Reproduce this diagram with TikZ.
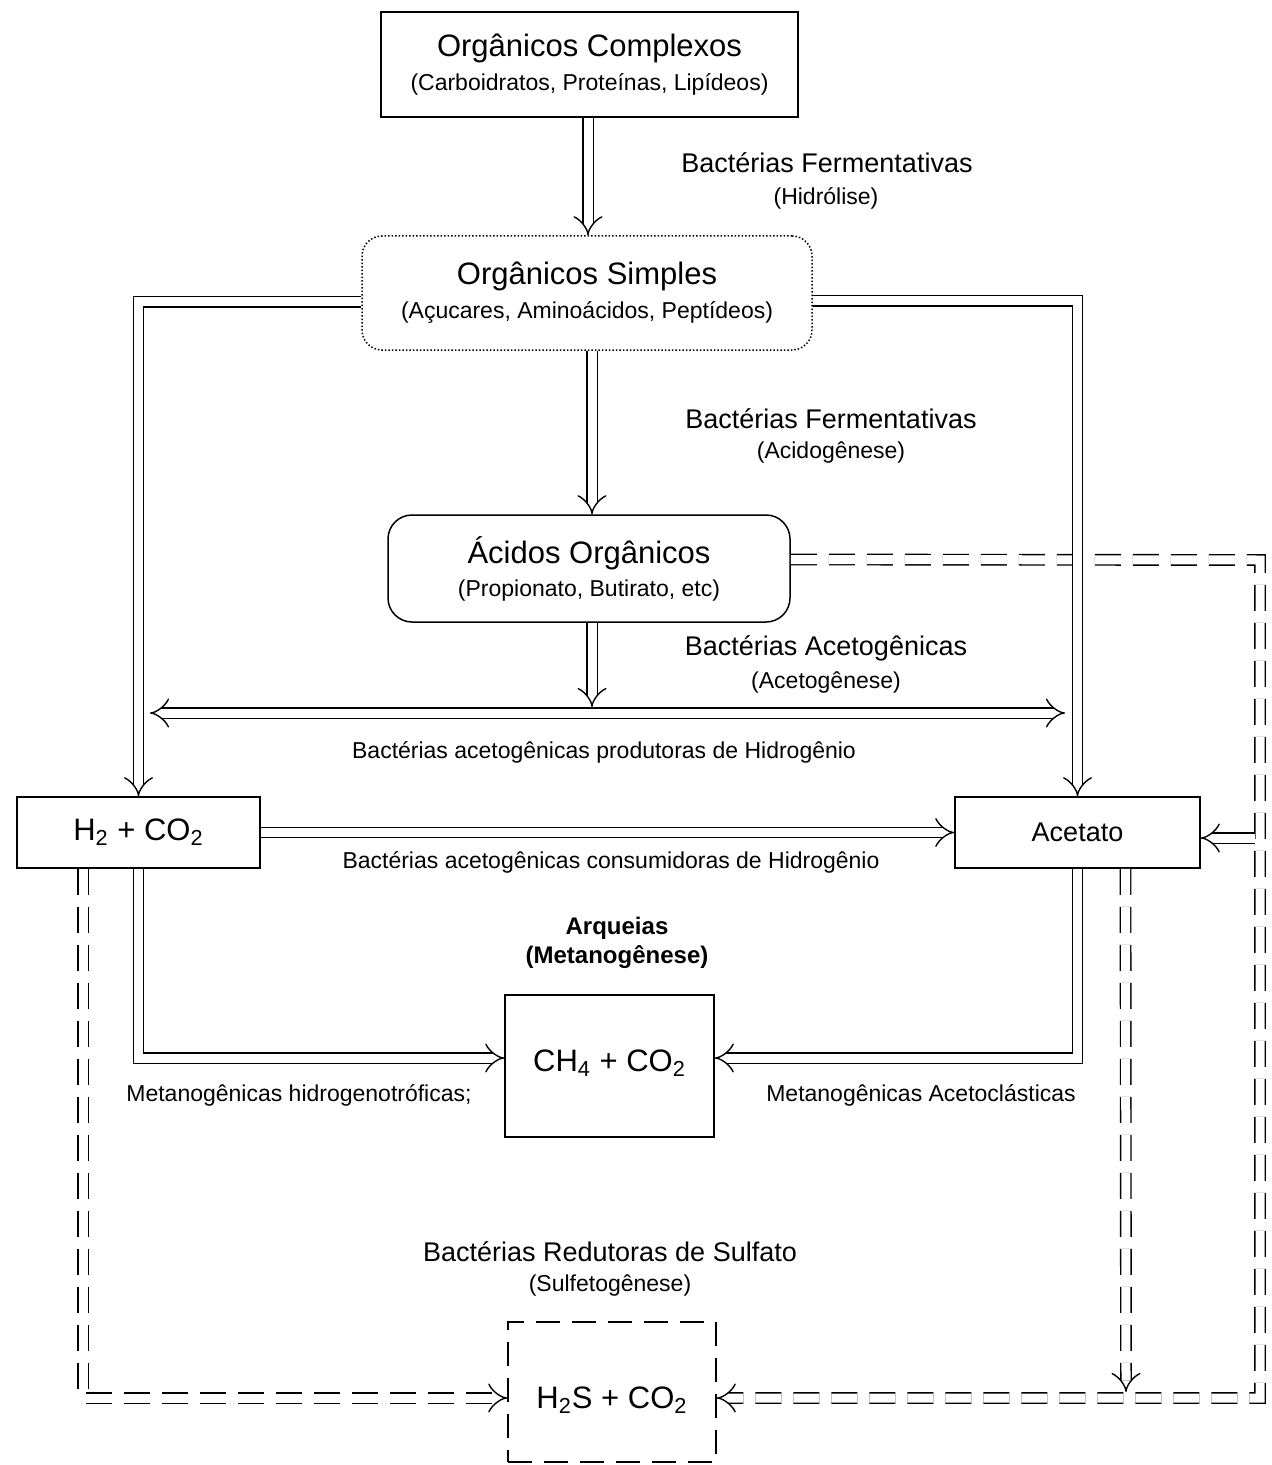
\documentclass[tikz,border=0pt]{standalone}
\usepackage{fontspec}
\setmainfont{Liberation Sans}
\usetikzlibrary{arrows.meta,calc}
\newcommand*\FTitle{\fontsize{15.5}{19}\selectfont}
\newcommand*\FSub{\fontsize{11.5}{14}\selectfont}
\newcommand*\FLab{\fontsize{13.5}{16}\selectfont}
\newcommand*\FSmall{\fontsize{11.5}{14}\selectfont}
\begin{document}
\begin{tikzpicture}[x=0.5pt,y=-0.5pt,
  box/.style={draw, line width=0.75pt, align=center, inner sep=0pt},
  dbl/.style={draw, line width=0.7pt, double, double distance=4.5pt, -{Implies}},
  dbldash/.style={dbl, dash pattern=on 13pt off 6pt},
  lab/.style={font=\FLab, inner sep=0pt},
  sub/.style={font=\FSub, inner sep=0pt},
  small/.style={font=\FSmall, inner sep=0pt},
  bold/.style={font=\fontsize{12}{14.5}\selectfont\bfseries, inner sep=0pt, align=center}
]
\useasboundingbox (0,0) rectangle (1271,1465);

% boxes
\node[box, minimum width=208.5pt, minimum height=52.5pt] (oc) at (589.5,64.5)
  {\FTitle Orgânicos Complexos\\[5pt]\FSub (Carboidratos, Proteínas, Lipídeos)};
\node[box, densely dotted, rounded corners=10pt, minimum width=225pt, minimum height=57pt] (os) at (587,293)
  {\FTitle Orgânicos Simples\\[5pt]\FSub (Açucares, Aminoácidos, Peptídeos)};
\node[box, rounded corners=12pt, minimum width=201pt, minimum height=53.5pt] (ao) at (589,568.5)
  {\FTitle Ácidos Orgânicos\\[4.5pt]\FSub (Propionato, Butirato, etc)};
\node[box, minimum width=121.5pt, minimum height=35.5pt] (h2) at (138.5,832.5)
  {\FTitle H\textsubscript{2} + CO\textsubscript{2}};
\node[box, minimum width=122.5pt, minimum height=35.5pt] (ac) at (1077.5,832.5)
  {\FLab Acetato};
\node[box, minimum width=104.5pt, minimum height=71pt, text height=11pt, text depth=6pt] (ch4) at (609.5,1066)
  {\FTitle CH\textsubscript{4} + CO\textsubscript{2}};
\node[box, dash pattern=on 12pt off 6pt, minimum width=104pt, minimum height=70pt, text height=16pt, text depth=0pt] (h2s) at (612,1392)
  {\FTitle H\textsubscript{2}S + CO\textsubscript{2}};

% free coordinates
\coordinate (hl) at (150,713);
\coordinate (hr) at (1065,713);
\coordinate (aoend) at (592,707);
\coordinate (rc1) at (1260,560);
\coordinate (rc2) at (1260,1398);
\coordinate (rc3) at (1255,838);
\coordinate (acd) at (1126,1392);

% labels
\node[lab] (l1) at (827,163) {Bactérias Fermentativas};
\node[small] (l1s) at (826,198) {(Hidrólise)};
\node[lab] (l2) at (831,419) {Bactérias Fermentativas};
\node[small] (l2s) at (831,453) {(Acidogênese)};
\node[lab] (l3) at (826,648) {Bactérias Acetogênicas};
\node[small] (l3s) at (826,683) {(Acetogênese)};
\node[small] (l4) at (604,752) {Bactérias acetogênicas produtoras de Hidrogênio};
\node[small] (l5) at (611,862) {Bactérias acetogênicas consumidoras de Hidrogênio};
\node[bold] (l6) at (617,943) {Arqueias\\(Metanogênese)};
\node[small] (l7) at (299,1095) {Metanogênicas hidrogenotróficas;};
\node[small] (l8) at (921,1095) {Metanogênicas Acetoclásticas};
\node[lab] (l9) at (610,1252) {Bactérias Redutoras de Sulfato};
\node[small] (l9s) at (610,1285) {(Sulfetogênese)};

% dashed connectors (drawn first so solid ones lie on top)
\draw[dbldash] ([yshift=4.5pt]ao.east) -- (rc1) -- (rc2) -- ([yshift=-3pt]h2s.east);
\draw[dbldash] ([xshift=-27.75pt]h2.south) |- ([yshift=-3pt]h2s.west);
\draw[dbldash] ([xshift=24pt]ac.south) -- (acd);

% solid connectors
\draw[dbl] (oc.south -| 588,0) -- (os.north -| 588,0);
\draw[dbl] (os.south -| 592,0) -- (ao.north -| 592,0);
\draw[dbl] (ao.south -| 592,0) -- (aoend);
\draw[dbl, {Implies}-{Implies}] (hl) -- (hr);
\draw[dbl] ([yshift=-4.5pt]os.west) -| (h2.north);
\draw[dbl] ([yshift=-4pt]os.east) -| (ac.north);
\draw[dbl] (h2.east) -- (ac.west);
\draw[dbl] (h2.south) |- ([yshift=4pt]ch4.west);
\draw[dbl] (ac.south) |- ([yshift=4pt]ch4.east);
\draw[dbl] (rc3) -- ([yshift=-2.75pt]ac.east);
\end{tikzpicture}
\end{document}
